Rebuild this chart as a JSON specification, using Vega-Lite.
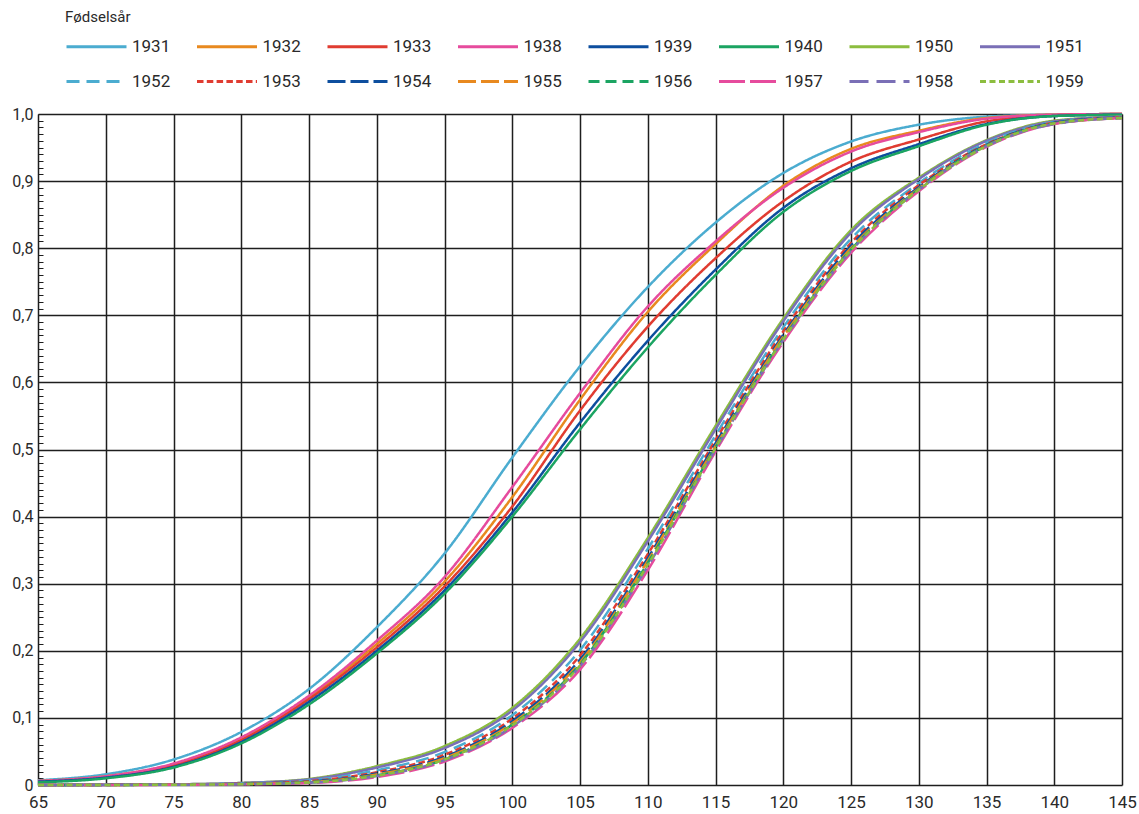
{
  "$schema": "https://vega.github.io/schema/vega-lite/v6.json",
  "width": 1084,
  "height": 671,
  "autosize": {"type": "none"},
  "padding": {"left": 38, "top": 114, "right": 17, "bottom": 29},
  "background": "white",
  "config": {
    "font": "Roboto",
    "view": {"stroke": null}
  },
  "data": {
    "values": [
      {"age": 65, "1931": 0.007, "1932": 0.006, "1933": 0.005, "1938": 0.006, "1939": 0.005, "1940": 0.004, "1950": 0, "1951": 0, "1952": 0, "1953": 0, "1954": 0, "1955": 0, "1956": 0, "1957": 0, "1958": 0, "1959": 0},
      {"age": 70, "1931": 0.016, "1932": 0.013, "1933": 0.012, "1938": 0.013, "1939": 0.011, "1940": 0.010, "1950": 0.0005, "1951": 0.0004, "1952": 0.0003, "1953": 0.0002, "1954": 0.0002, "1955": 0.0001, "1956": 0.0001, "1957": 0, "1958": 0.0001, "1959": 0.0001},
      {"age": 75, "1931": 0.038, "1932": 0.031, "1933": 0.029, "1938": 0.032, "1939": 0.027, "1940": 0.026, "1950": 0.001, "1951": 0.001, "1952": 0.0007, "1953": 0.0006, "1954": 0.0005, "1955": 0.0005, "1956": 0.0004, "1957": 0.0003, "1958": 0.0004, "1959": 0.0004},
      {"age": 80, "1931": 0.079, "1932": 0.069, "1933": 0.067, "1938": 0.071, "1939": 0.064, "1940": 0.062, "1950": 0.003, "1951": 0.003, "1952": 0.0022, "1953": 0.0019, "1954": 0.0016, "1955": 0.0014, "1956": 0.0013, "1957": 0.001, "1958": 0.0012, "1959": 0.0012},
      {"age": 85, "1931": 0.143, "1932": 0.131, "1933": 0.128, "1938": 0.133, "1939": 0.124, "1940": 0.120, "1950": 0.009, "1951": 0.0083, "1952": 0.0067, "1953": 0.0057, "1954": 0.0049, "1955": 0.0043, "1956": 0.0039, "1957": 0.003, "1958": 0.0035, "1959": 0.0037},
      {"age": 90, "1931": 0.235, "1932": 0.210, "1933": 0.205, "1938": 0.215, "1939": 0.200, "1940": 0.196, "1950": 0.028, "1951": 0.026, "1952": 0.022, "1953": 0.019, "1954": 0.017, "1955": 0.0155, "1956": 0.0144, "1957": 0.012, "1958": 0.0133, "1959": 0.0139},
      {"age": 95, "1931": 0.345, "1932": 0.303, "1933": 0.296, "1938": 0.310, "1939": 0.290, "1940": 0.285, "1950": 0.058, "1951": 0.055, "1952": 0.049, "1953": 0.045, "1954": 0.042, "1955": 0.040, "1956": 0.038, "1957": 0.035, "1958": 0.037, "1959": 0.038},
      {"age": 100, "1931": 0.488, "1932": 0.429, "1933": 0.415, "1938": 0.444, "1939": 0.406, "1940": 0.400, "1950": 0.115, "1951": 0.111, "1952": 0.104, "1953": 0.099, "1954": 0.095, "1955": 0.092, "1956": 0.090, "1957": 0.085, "1958": 0.087, "1959": 0.089},
      {"age": 105, "1931": 0.624, "1932": 0.574, "1933": 0.558, "1938": 0.584, "1939": 0.540, "1940": 0.530, "1950": 0.218, "1951": 0.213, "1952": 0.201, "1953": 0.193, "1954": 0.187, "1955": 0.183, "1956": 0.180, "1957": 0.172, "1958": 0.177, "1959": 0.178},
      {"age": 110, "1931": 0.742, "1932": 0.705, "1933": 0.683, "1938": 0.713, "1939": 0.662, "1940": 0.652, "1950": 0.368, "1951": 0.363, "1952": 0.352, "1953": 0.344, "1954": 0.338, "1955": 0.334, "1956": 0.331, "1957": 0.320, "1958": 0.326, "1959": 0.328},
      {"age": 115, "1931": 0.838, "1932": 0.806, "1933": 0.785, "1938": 0.810, "1939": 0.768, "1940": 0.760, "1950": 0.535, "1951": 0.530, "1952": 0.521, "1953": 0.514, "1954": 0.509, "1955": 0.505, "1956": 0.503, "1957": 0.497, "1958": 0.500, "1959": 0.502},
      {"age": 120, "1931": 0.912, "1932": 0.893, "1933": 0.870, "1938": 0.890, "1939": 0.860, "1940": 0.854, "1950": 0.695, "1951": 0.691, "1952": 0.682, "1953": 0.676, "1954": 0.671, "1955": 0.668, "1956": 0.665, "1957": 0.660, "1958": 0.663, "1959": 0.664},
      {"age": 125, "1931": 0.959, "1932": 0.948, "1933": 0.929, "1938": 0.944, "1939": 0.919, "1940": 0.915, "1950": 0.827, "1951": 0.823, "1952": 0.814, "1953": 0.808, "1954": 0.804, "1955": 0.800, "1956": 0.798, "1957": 0.793, "1958": 0.796, "1959": 0.797},
      {"age": 130, "1931": 0.984, "1932": 0.975, "1933": 0.962, "1938": 0.973, "1939": 0.955, "1940": 0.952, "1950": 0.905, "1951": 0.903, "1952": 0.897, "1953": 0.894, "1954": 0.891, "1955": 0.889, "1956": 0.888, "1957": 0.885, "1958": 0.887, "1959": 0.887},
      {"age": 135, "1931": 0.996, "1932": 0.994, "1933": 0.989, "1938": 0.993, "1939": 0.985, "1940": 0.984, "1950": 0.961, "1951": 0.960, "1952": 0.957, "1953": 0.955, "1954": 0.954, "1955": 0.953, "1956": 0.953, "1957": 0.951, "1958": 0.952, "1959": 0.952},
      {"age": 140, "1931": 0.999, "1932": 0.999, "1933": 0.998, "1938": 0.999, "1939": 0.997, "1940": 0.997, "1950": 0.990, "1951": 0.989, "1952": 0.988, "1953": 0.987, "1954": 0.987, "1955": 0.986, "1956": 0.986, "1957": 0.985, "1958": 0.985, "1959": 0.986},
      {"age": 145, "1931": 1, "1932": 1, "1933": 1, "1938": 1, "1939": 0.999, "1940": 0.999, "1950": 0.996, "1951": 0.996, "1952": 0.995, "1953": 0.995, "1954": 0.995, "1955": 0.994, "1956": 0.994, "1957": 0.994, "1958": 0.994, "1959": 0.994}
    ]
  },
  "transform": [
    {"fold": ["1931", "1932", "1933", "1938", "1939", "1940", "1950", "1951", "1952", "1953", "1954", "1955", "1956", "1957", "1958", "1959"], "as": ["cohort", "share"]}
  ],
  "mark": {"type": "line", "interpolate": "monotone", "strokeWidth": 2.5},
  "encoding": {
    "x": {
      "field": "age",
      "type": "quantitative",
      "scale": {"domain": [65, 145], "nice": false},
      "axis": {
        "title": null,
        "values": [65, 70, 75, 80, 85, 90, 95, 100, 105, 110, 115, 120, 125, 130, 135, 140, 145],
        "ticks": false,
        "domain": false,
        "grid": true,
        "gridColor": "#1e1e1e",
        "gridWidth": 1.5,
        "labelFontSize": 17,
        "labelColor": "#2a2a2a",
        "labelPadding": 9,
        "labelFlush": false
      }
    },
    "y": {
      "field": "share",
      "type": "quantitative",
      "scale": {"domain": [0, 1], "nice": false},
      "axis": {
        "title": null,
        "tickCount": 100,
        "domain": false,
        "grid": true,
        "gridColor": "#1e1e1e",
        "gridWidth": 1.5,
        "gridOpacity": {"condition": {"test": "abs(datum.value * 10 - round(datum.value * 10)) < 0.001", "value": 1}, "value": 0},
        "ticks": true,
        "tickSize": -5,
        "tickColor": "#1e1e1e",
        "tickWidth": 1,
        "labelOverlap": false,
        "labelExpr": "abs(datum.value * 10 - round(datum.value * 10)) < 0.001 ? (datum.value == 0 ? '0' : replace(format(datum.value, '.1f'), '.', ',')) : ''",
        "labelFontSize": 16,
        "labelColor": "#2a2a2a",
        "labelPadding": 10
      }
    },
    "color": {
      "field": "cohort",
      "type": "nominal",
      "scale": {
        "domain": ["1931", "1932", "1933", "1938", "1939", "1940", "1950", "1951", "1952", "1953", "1954", "1955", "1956", "1957", "1958", "1959"],
        "range": ["#4BACD0", "#E8891F", "#E03C31", "#E64B9D", "#0D4E9E", "#1BA462", "#8CBD3F", "#7A6FB6", "#4BACD0", "#E03C31", "#0D4E9E", "#E8891F", "#1BA462", "#E64B9D", "#7A6FB6", "#8CBD3F"]
      },
      "legend": {
        "title": "Fødselsår",
        "orient": "none",
        "legendX": 27,
        "legendY": -104,
        "direction": "horizontal",
        "columns": 8,
        "symbolType": "M-1,0H5",
        "symbolSize": 400,
        "symbolStrokeWidth": 3,
        "labelFontSize": 17,
        "labelColor": "#2a2a2a",
        "labelOffset": 44,
        "titleFontSize": 15,
        "titleFontWeight": "normal",
        "titleColor": "#2a2a2a",
        "titlePadding": 10,
        "columnPadding": 19.5,
        "rowPadding": 15
      }
    },
    "strokeDash": {
      "field": "cohort",
      "type": "nominal",
      "scale": {
        "domain": ["1931", "1932", "1933", "1938", "1939", "1940", "1950", "1951", "1952", "1953", "1954", "1955", "1956", "1957", "1958", "1959"],
        "range": [[1, 0], [1, 0], [1, 0], [1, 0], [1, 0], [1, 0], [1, 0], [1, 0], [13, 7], [6.5, 3.3], [18, 5], [18, 5], [11, 6], [26, 5], [19, 8], [6, 3.5]]
      },
      "legend": {
        "title": "Fødselsår",
        "orient": "none",
        "legendX": 27,
        "legendY": -104,
        "direction": "horizontal",
        "columns": 8,
        "symbolType": "M-1,0H5",
        "symbolSize": 400,
        "symbolStrokeWidth": 3,
        "labelFontSize": 17,
        "labelColor": "#2a2a2a",
        "labelOffset": 44,
        "titleFontSize": 15,
        "titleFontWeight": "normal",
        "titleColor": "#2a2a2a",
        "titlePadding": 10,
        "columnPadding": 19.5,
        "rowPadding": 15
      }
    }
  }
}
